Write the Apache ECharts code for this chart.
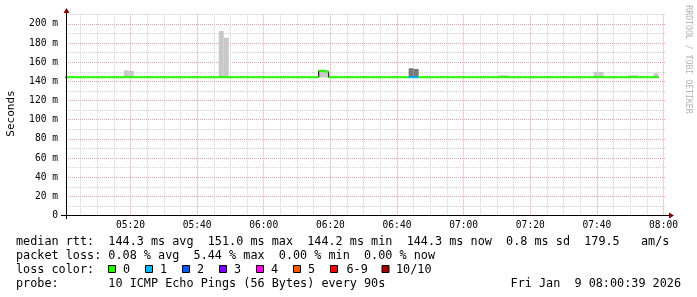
<!DOCTYPE html>
<html><head><meta charset="utf-8">
<script src="https://cdn.jsdelivr.net/npm/echarts@6/dist/echarts.min.js"></script>
<style>html,body{margin:0;padding:0;background:#fff}#c{width:697px;height:297px}</style>
</head><body><div id="c"></div>
<script>
// Time values are minutes since midnight
const timeStart = 300.65;   // 05:00:39
const timeEnd = 480.65;     // 08:00:39
const xLabelMinutes = [320, 340, 360, 380, 400, 420, 440, 460, 480];
const xGridMinutes = [305,310,315,320,325,330,335,340,345,350,355,360,365,370,375,380,385,390,
                      395,400,405,410,415,420,425,430,435,440,445,450,455,460,465,470,475,480];
const yLabelValues = [0, 20, 40, 60, 80, 100, 120, 140, 160, 180, 200];
const yMin = 0, yMax = 210, yStep = 10;

// median rtt (ms) per step range: [start, end, value, lossColorIndex]
const medianSteps = [
  [300.0, 376.5, 144.3, 0],
  [376.5, 378.0, 151.0, 0],
  [378.0, 379.5, 150.2, 0],
  [379.5, 403.5, 144.3, 0],
  [403.5, 406.5, 144.3, 1],
  [406.5, 478.5, 144.3, 0]
];
// smoke: [start, end, low, high, shade]
const smoke = [
  [318.0, 319.5, 144.0, 151.7, 0],
  [319.5, 321.0, 144.0, 150.7, 0],
  [346.5, 348.0, 144.0, 192.6, 0],
  [348.0, 349.5, 144.0, 185.6, 0],
  [376.5, 378.0, 144.0, 151.0, 0],
  [378.0, 379.5, 144.0, 150.2, 0],
  [403.5, 405.0, 144.0, 153.8, 1],
  [405.0, 406.5, 144.0, 152.8, 1],
  [430.5, 432.0, 144.0, 146.5, 0],
  [432.0, 433.5, 144.0, 146.5, 0],
  [459.0, 460.5, 144.0, 150.0, 0],
  [460.5, 462.0, 144.0, 149.7, 0],
  [469.5, 471.0, 144.0, 146.5, 0],
  [471.0, 472.5, 144.0, 146.5, 0],
  [477.0, 478.5, 144.0, 148.6, 0]
];
const smokeShades = ['#c8c8c8', '#7a7a7a'];
const lossColors = ['#26ff00', '#00b8ff', '#0059ff', '#7e00ff', '#ff00ea', '#ff5500', '#ff0000', '#a10000'];
const lossLabels = ['0', '1', '2', '3', '4', '5', '6-9', '10/10'];
const legendLines = [
  'median rtt:  144.3 ms avg  151.0 ms max  144.2 ms min  144.3 ms now  0.8 ms sd  179.5   am/s',
  'packet loss: 0.08 % avg  5.44 % max  0.00 % min  0.00 % now',
  'loss color:',
  'probe:       10 ICMP Echo Pings (56 Bytes) every 90s'
];
const dateText = 'Fri Jan  9 08:00:39 2026';
const yAxisName = 'Seconds';
const watermark = 'RRDTOOL / TOBI OETIKER';

// build line points for the median (step line)
const medianPts = medianSteps.map(s => [s[0], s[2]]);
medianPts.push([medianSteps[medianSteps.length - 1][1], medianSteps[medianSteps.length - 1][2]]);

const MONO = 'DejaVu Sans Mono';
const pad = n => (n < 10 ? '0' : '') + n;
const fmtTime = v => pad(Math.floor(Math.round(v) / 60)) + ':' + pad(Math.round(v) % 60);

const chart = echarts.init(document.getElementById('c'), null, {renderer: 'canvas'});

const G = '#cfcfcf', R = '#e5a0a0';
const graphics = [];
// axis lines + arrows
graphics.push({type: 'line', shape: {x1: 61, y1: 215.5, x2: 669, y2: 215.5}, style: {stroke: '#000', lineWidth: 1}, z: 50});
graphics.push({type: 'line', shape: {x1: 66.5, y1: 219, x2: 66.5, y2: 12}, style: {stroke: '#000', lineWidth: 1}, z: 50});
graphics.push({type: 'polygon', shape: {points: [[669, 212.5], [669, 218.5], [674, 215.5]]}, style: {fill: '#7f0000'}, z: 51});
graphics.push({type: 'polygon', shape: {points: [[63.5, 13], [69.5, 13], [66.5, 8]]}, style: {fill: '#7f0000'}, z: 51});
// y axis title
graphics.push({type: 'text', x: 11, y: 113.5, rotation: Math.PI / 2,
  style: {text: yAxisName, font: '11px "' + MONO + '"', fill: '#000', align: 'center', verticalAlign: 'middle'}});
// watermark
graphics.push({type: 'text', x: 688, y: 59.5, rotation: -Math.PI / 2,
  style: {text: watermark, font: '8.2px "' + MONO + '"', fill: '#b4b4b4', align: 'center', verticalAlign: 'middle'}});
// legend lines
const lineY = [241.5, 255.5, 269.5, 283.5];
legendLines.forEach((t, i) => {
  graphics.push({type: 'text', x: 16, y: lineY[i],
    style: {text: t, font: '11.8px "' + MONO + '"', fill: '#000', align: 'left', verticalAlign: 'middle'}});
});
graphics.push({type: 'text', x: 681, y: lineY[3],
  style: {text: dateText, font: '11.8px "' + MONO + '"', fill: '#000', align: 'right', verticalAlign: 'middle'}});
// loss colour boxes
const boxX = [108, 145, 182, 219, 256, 293, 330, 381.5];
const boxLabelX = [123, 160, 197, 234, 271, 308, 346.5, 396];
lossColors.forEach((c, i) => {
  graphics.push({type: 'rect', shape: {x: boxX[i] + 0.5, y: 265.5, width: 7, height: 7},
    style: {fill: c, stroke: '#000', lineWidth: 1}});
  graphics.push({type: 'text', x: boxLabelX[i], y: lineY[2],
    style: {text: lossLabels[i], font: '11.8px "' + MONO + '"', fill: '#000', align: 'left', verticalAlign: 'middle'}});
});

const option = {
  animation: false,
  backgroundColor: '#fff',
  grid: {left: 66, right: 31.3, top: 14.3, bottom: 81.5, show: false},
  xAxis: {
    type: 'value', min: timeStart, max: timeEnd,
    axisLine: {show: false},
    axisTick: {show: false, customValues: xGridMinutes},
    axisLabel: {customValues: xLabelMinutes, formatter: fmtTime, fontFamily: MONO, fontSize: 9.6, color: '#000', margin: 4.5},
    splitLine: {show: true, lineStyle: {color: [G, G, G, R], type: [1, 1], width: 1}}
  },
  yAxis: {
    type: 'value', min: yMin, max: yMax, interval: yStep,
    axisLine: {show: false}, axisTick: {show: false},
    axisLabel: {customValues: yLabelValues, formatter: v => (v === 0 ? '0' : v + ' m'), fontFamily: MONO, fontSize: 9.6, color: '#000', margin: 8},
    splitLine: {show: true, lineStyle: {color: [R, G], type: [1, 1], width: 1}}
  },
  series: [
    {
      type: 'custom', clip: true, z: 2, silent: true,
      data: smoke,
      encode: {x: [0, 1], y: [2, 3]},
      renderItem: (params, api) => {
        const a = api.coord([api.value(0), api.value(3)]);
        const b = api.coord([api.value(1), api.value(2)]);
        return {type: 'rect', shape: {x: a[0], y: a[1], width: b[0] - a[0], height: b[1] - a[1]},
          style: {fill: smokeShades[api.value(4)]}};
      }
    },
    {
      type: 'line', step: 'end', data: medianPts, symbol: 'none', silent: true, z: 3,
      lineStyle: {color: '#000', width: 1}
    },
    {
      type: 'custom', clip: true, z: 4, silent: true,
      data: medianSteps,
      encode: {x: [0, 1], y: 2},
      renderItem: (params, api) => {
        const a = api.coord([api.value(0), api.value(2)]);
        const b = api.coord([api.value(1), api.value(2)]);
        return {type: 'rect', shape: {x: a[0], y: a[1] - 1, width: b[0] - a[0], height: 2},
          style: {fill: lossColors[api.value(3)]}};
      }
    }
  ],
  graphic: graphics
};
chart.setOption(option);
</script>
</body></html>
